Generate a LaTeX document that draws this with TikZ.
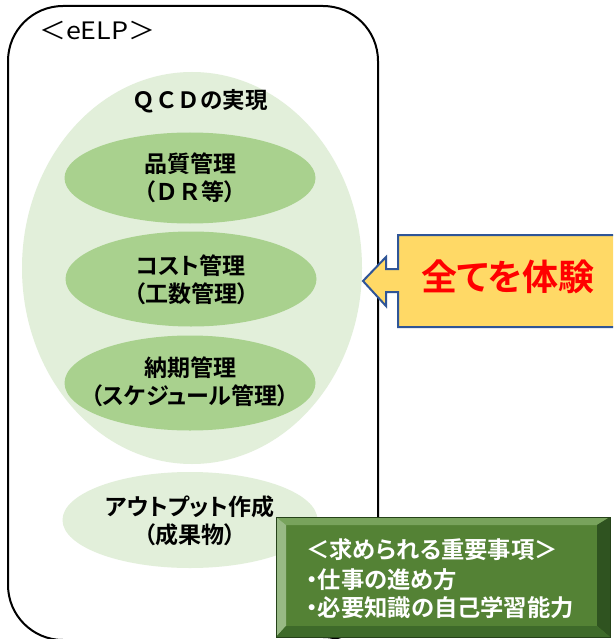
\documentclass[tikz,border=0pt]{standalone}
\usepackage{fontspec}
\usetikzlibrary{shapes.geometric}
\newfontfamily\jp{Noto Sans CJK JP}[FakeStretch=1.12]
\newfontfamily\jpbf{Noto Sans CJK JP Bold}
\newfontfamily\jpbfp{Noto Sans CJK JP Bold}[RawFeature=+palt]
\definecolor{lightg}{HTML}{E2EFDA}
\definecolor{midg}{HTML}{A9D18E}
\definecolor{callfill}{HTML}{FFD966}
\definecolor{callline}{HTML}{2F5597}
\definecolor{boxface}{HTML}{548235}
\definecolor{bevtop}{HTML}{78A35C}
\definecolor{bevleft}{HTML}{98B985}
\definecolor{bevright}{HTML}{2F5320}
\definecolor{bevbot}{HTML}{3E6A2A}
\tikzset{
  bigell/.style={ellipse, fill=lightg, draw=none, minimum width=340pt, minimum height=392pt, inner sep=0pt},
  subell/.style={ellipse, fill=midg, draw=none, minimum width=251pt, minimum height=95pt, inner sep=0pt},
  outell/.style={ellipse, fill=lightg, draw=none, minimum width=255pt, minimum height=96pt, inner sep=0pt},
  etext/.style={align=center, font=\jpbfp\fontsize{23}{28}\selectfont, inner sep=0pt},
  boxtext/.style={align=left, text=white, font=\jpbfp\fontsize{23.3}{29}\selectfont, inner sep=0pt, anchor=west},
}
\begin{document}
\begin{tikzpicture}[x=1pt,y=-1pt]
\useasboundingbox (0,0) rectangle (613,639);
\clip (0,0) rectangle (613,639);
\fill[white] (0,0) rectangle (613,639);
% outer frame
\draw[line width=2pt, rounded corners=55pt] (8,6) rectangle (378,640);
\node[anchor=west, font=\jp\fontsize{24}{28}\selectfont, inner sep=0pt] (title) at (39,31) {＜eELP＞};
% big ellipse
\node[bigell] (big) at (192,268) {};
\node[etext, font=\jpbf\fontsize{22.5}{28}\selectfont] (qcd) at (200,101) {ＱＣＤの実現};
% inner ellipses
\node[subell, minimum height=91pt] (e1) at (190,178) {};
\node[etext] (t1) at (190,178) {品質管理\\（{\jpbf ＤＲ}等）};
\node[subell] (e2) at (191,279) {};
\node[etext] (t2) at (191,280) {コスト管理\\（工数管理）};
\node[subell] (e3) at (190,383) {};
\node[etext] (t3) at (190,382) {納期管理\\（スケジュール管理）};
\node[outell] (e4) at (190,520) {};
\node[etext] (t4) at (190,521) {アウトプット作成\\（成果物）};
% callout
\draw[fill=callfill, draw=callline, line width=2pt, line join=miter]
  (625,235) -- (398,235) -- (398,269) -- (386,269) -- (386,257) -- (363,281)
  -- (386,306) -- (386,292) -- (398,292) -- (398,327) -- (625,327) -- cycle;
\node[text=red, font=\jpbfp\fontsize{36}{40}\selectfont, inner sep=0pt] (zen) at (508,277) {全てを体験};
% bevel box
\fill[boxface] (276,517) rectangle (610,637);
\fill[bevtop] (276,517) -- (610,517) -- (597,525) -- (286,525) -- cycle;
\fill[bevleft] (276,517) -- (286,525) -- (286,626) -- (276,637) -- cycle;
\fill[bevright] (610,517) -- (597,525) -- (597,626) -- (610,637) -- cycle;
\fill[bevbot] (276,637) -- (286,626) -- (597,626) -- (610,637) -- cycle;
\draw[bevright!80!black, line width=0.8pt] (276,517) rectangle (610,637);
\node[boxtext] (b1) at (306,550) {＜求められる重要事項＞};
\node[boxtext] (b2) at (306,580) {・仕事の進め方};
\node[boxtext] (b3) at (306,608) {・必要知識の自己学習能力};
\end{tikzpicture}
\end{document}
